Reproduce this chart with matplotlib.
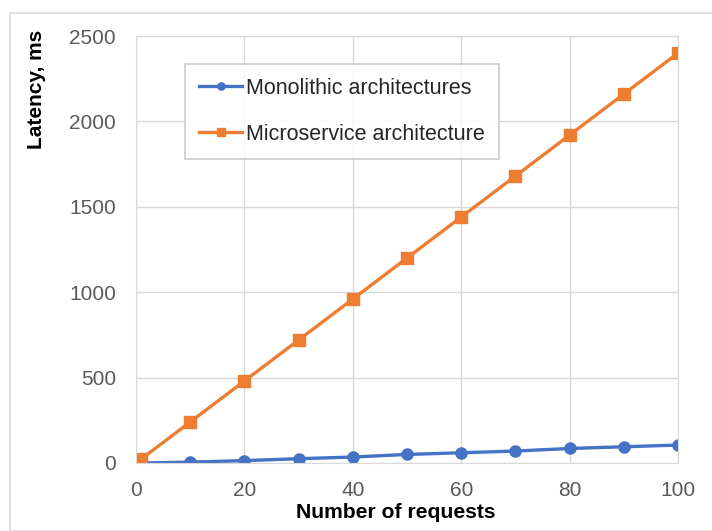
import matplotlib
matplotlib.use("Agg")
import matplotlib.pyplot as plt
from matplotlib.patches import Rectangle

plt.rcParams['font.family'] = ['Liberation Sans', 'DejaVu Sans']

requests = [1, 10, 20, 30, 40, 50, 60, 70, 80, 90, 100]
monolithic = [0, 5, 14, 25, 35, 50, 60, 70, 85, 95, 105]
microservice = [24, 240, 480, 720, 960, 1200, 1440, 1680, 1920, 2160, 2400]
x_ticks = [0, 20, 40, 60, 80, 100]
y_ticks = [0, 500, 1000, 1500, 2000, 2500]

W, H = 712, 531
fig = plt.figure(figsize=(W/100, H/100), dpi=100)
fig.patch.set_facecolor('white')
fig.patches.append(Rectangle((10/W, 0), 1.2, 1 - 13/H, transform=fig.transFigure,
                             fill=False, edgecolor='#d9d9d9', linewidth=1.2))

ax = fig.add_axes([136/W, (H-463)/H, 542/W, 427/H])
ax.plot(requests, monolithic, color='#4472C4', lw=2.4, marker='o', ms=8,
        label='Monolithic architectures')
ax.plot(requests, microservice, color='#ED7D31', lw=2.4, marker='s', ms=8,
        label='Microservice architecture')
ax.set_xlim(0, 100)
ax.set_ylim(0, 2500)
ax.set_xticks(x_ticks)
ax.set_yticks(y_ticks)
ax.grid(True, color='#d9d9d9', lw=1.0)
ax.set_axisbelow(True)
for s in ax.spines.values():
    s.set_color('#d9d9d9')
ax.tick_params(length=0, labelsize=15, colors='#595959')
ax.tick_params(axis='y', pad=14.5)
ax.tick_params(axis='x', pad=13)

fig.text(396/W, 1-513/H, 'Number of requests', ha='center', va='center',
         fontsize=15.2, fontweight='bold', color='black')
fig.text(37/W, 1-30/H, 'Latency, ms', ha='center', va='top', rotation=90,
         fontsize=15, fontweight='bold', color='black')

leg = ax.legend(loc='upper left', bbox_to_anchor=(185/W, 1-64/H),
                bbox_transform=fig.transFigure, fontsize=15.5, frameon=True,
                fancybox=False, edgecolor='#bfbfbf', handlelength=2.0,
                markerscale=0.65, labelspacing=1.15, borderpad=0.65,
                handletextpad=0.2, borderaxespad=0)
leg.get_frame().set_linewidth(1.2)
for t in leg.get_texts():
    t.set_color('#262626')

fig.savefig('out.png', dpi=100)
